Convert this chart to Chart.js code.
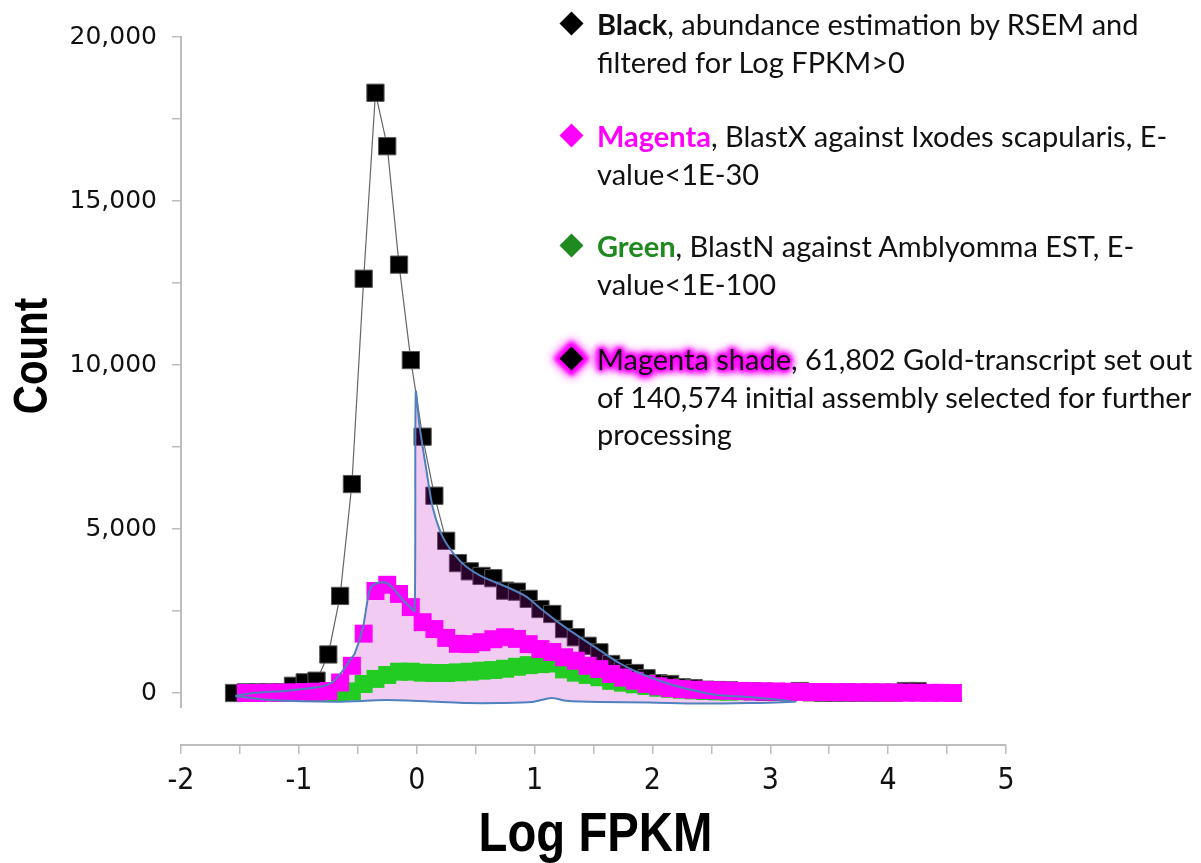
<!DOCTYPE html>
<html>
<head>
<meta charset="utf-8">
<script src="https://cdn.jsdelivr.net/npm/chart.js@4.4.0/dist/chart.umd.min.js"></script>
<style>
  html, body { margin: 0; padding: 0; background: #fff; }
  #wrap { position: relative; width: 1201px; height: 863px; overflow: hidden; }
  #chart { position: absolute; left: 0; top: 0; }
  .note { position: absolute; left: 597px; font-family: Lato, sans-serif; font-size: 29px; line-height: 37.5px; color: #111; white-space: nowrap; }
  .dia { position: absolute; left: -34px; top: 10px; width: 17px; height: 17px; transform: rotate(45deg); }
  .glow { text-shadow: 0 0 2px #f0f, 0 0 3px #f0f, 0 0 4px #f0f, 0 0 5px #f0f, 0 0 6px #f0f, 0 0 7px #f0f,
                       0 0 8px #f0f, 0 0 9px #f0f, 0 0 10px #f0f, 0 0 12px #f0f, 0 0 14px #f0f; }
</style>
</head>
<body>
<div id="wrap">
  <canvas id="chart" width="1201" height="863"></canvas>
  <div class="note" style="top:5px"><span class="dia" style="background:#000"></span><b>Black</b>, abundance estimation by RSEM and<br>filtered for Log FPKM&gt;0</div>
  <div class="note" style="top:117px"><span class="dia" style="background:#ff00ff"></span><b style="color:#ff00ff">Magenta</b>, BlastX against Ixodes scapularis, E-<br>value&lt;1E-30</div>
  <div class="note" style="top:227px"><span class="dia" style="background:#1f8a1f"></span><b style="color:#1f8a1f">Green</b>, BlastN against Amblyomma EST, E-<br>value&lt;1E-100</div>
  <div class="note" style="top:340px"><span class="dia" style="background:#000;box-shadow:0 0 4px 4px #f0f, 0 0 10px 5px #f0f"></span><span class="glow">Magenta shade</span>, 61,802 Gold-transcript set out<br>of 140,574 initial assembly selected for further<br>processing</div>
</div>
<script>
// Log FPKM bins (centres) and counts per series
const bins = [-1.55, -1.45, -1.35, -1.25, -1.15, -1.05, -0.95, -0.85, -0.75, -0.65,
              -0.55, -0.45, -0.35, -0.25, -0.15, -0.05, 0.05, 0.15, 0.25, 0.35,
              0.45, 0.55, 0.65, 0.75, 0.85, 0.95, 1.05, 1.15, 1.25, 1.35,
              1.45, 1.55, 1.65, 1.75, 1.85, 1.95, 2.05, 2.15, 2.25, 2.35,
              2.45, 2.55, 2.65, 2.75, 2.85, 2.95, 3.05, 3.15, 3.25, 3.35,
              3.45, 3.55, 3.65, 3.75, 3.85, 3.95, 4.05, 4.15, 4.25, 4.35,
              4.45, 4.55];

const blackCounts = [0, 20, 20, 20, 20, 220, 325, 375, 1175, 2960,
                     6370, 12630, 18300, 16670, 13060, 10150, 7815, 6015, 4640, 3960,
                     3710, 3570, 3500, 3120, 3090, 2870, 2560, 2410, 1950, 1700,
                     1440, 1240, 885, 760, 610, 450, 300, 275, 175, 150,
                     100, 90, 80, 60, 50, 40, 30, 20, 60, 20,
                     10, 10, 10, 10, 10, 10, 10, 60, 60, null,
                     null, null];

const magentaCounts = [null, 0, 0, 10, 10, 20, 30, 40, 60, 320,
                       830, 1810, 3110, 3300, 3020, 2620, 2160, 1950, 1680, 1500,
                       1490, 1550, 1640, 1700, 1650, 1490, 1340, 1250, 1090, 985,
                       830, 730, 580, 470, 375, 275, 205, 150, 120, 100,
                       90, 80, 70, 60, 55, 50, 45, 40, 35, 30,
                       30, 25, 25, 20, 20, 15, 15, 10, 10, 5,
                       5, 0];

const greenCounts = [null, null, null, null, null, null, null, 0, 0, 30,
                     50, 275, 430, 550, 650, 650, 620, 610, 610, 630,
                     650, 680, 700, 740, 800, 850, 880, 900, 720, 620,
                     550, 480, 370, 315, 265, 215, 160, 130, 100, 80,
                     60, 50, 40, null, null, null, null, null, null, null,
                     null, null, null, null, null, null, null, null, null, null,
                     null, null];

// outline of the "Gold-transcript" shade: upper edge left to right, then lower edge back
const shadeX = [-1.54, -1.386, -1.1, -0.82, -0.709, -0.624, -0.567, -0.525, -0.455, -0.412,
                -0.384, -0.328, -0.257, -0.2, -0.116, -0.05, -0.017, -0.008, 0.025, 0.082,
                0.135, 0.22, 0.322, 0.421, 0.559, 0.76, 0.929, 1.067, 1.211, 1.38,
                1.55, 1.719, 1.888, 2.117, 2.337, 2.54, 2.82, 3.218,
                2.82, 2.396, 1.973, 1.55, 1.27, 1.143, 0.982, 0.703, 0.423, 0.169,
                -0.254, -0.677, -1.245, -1.54];
const shadeY = [-90, 0, 70, 190, 345, 700, 1000, 1210, 2020, 2936,
                3240, 3360, 3360, 3190, 2835, 2600, 2500, 9180, 8110, 6800,
                5670, 4760, 4210, 3850, 3540, 3240, 2940, 2530, 2130, 1710,
                1310, 915, 610, 305, 90, -60, -120, -270,
                -305, -320, -290, -275, -235, -150, -275, -305, -305, -265,
                -215, -265, -215, -90];

const xTicks = [-2, -1.5, -1, -0.5, 0, 0.5, 1, 1.5, 2, 2.5, 3, 3.5, 4, 4.5, 5];
const yTicks = [0, 2500, 5000, 7500, 10000, 12500, 15000, 17500, 20000];
const yAxisTop = 20000;
const yAxisBottom = -460;

const condensed = "'DejaVu Sans Condensed', 'Liberation Sans', sans-serif";
const axisGrey = '#bdbdbd';

function points(values) {
    return bins.map((x, i) => ({ x, y: values[i] })).filter(p => p.y !== null);
}

const shadePoints = shadeX.map((x, i) => ({ x, y: shadeY[i] }));

// narrow bold title text (Liberation Sans squeezed like Arial Narrow)
function narrowText(ctx, text, x, y, size, angle, squeeze) {
    ctx.save();
    ctx.translate(x, y);
    ctx.rotate(angle);
    ctx.scale(squeeze, 1);
    ctx.fillStyle = '#000';
    ctx.font = 'bold ' + size + "px 'Liberation Sans', Arial, sans-serif";
    ctx.textAlign = 'center';
    ctx.textBaseline = 'alphabetic';
    ctx.fillText(text, 0, 0);
    ctx.restore();
}

const axisDecor = {
    id: 'axisDecor',
    afterDraw(chart) {
        const { ctx, scales: { x, y } } = chart;
        ctx.save();
        ctx.strokeStyle = axisGrey;
        ctx.lineWidth = 2;
        ctx.beginPath();
        ctx.moveTo(x.left, y.getPixelForValue(yAxisTop) - 1);
        ctx.lineTo(x.left, y.getPixelForValue(yAxisBottom));
        ctx.stroke();
        ctx.restore();

        narrowText(ctx, 'Count', 47, 356, 48, -Math.PI / 2, 0.84);
        narrowText(ctx, 'Log FPKM', (x.left + x.right) / 2 + 2, 851, 56, 0, 0.845);
    }
};

new Chart(document.getElementById('chart'), {
    type: 'scatter',
    data: {
        datasets: [
            {
                label: 'outline',
                data: shadePoints,
                showLine: true,
                borderColor: '#4f81bd',
                borderWidth: 2,
                pointRadius: 0,
                tension: 0.25,
                fill: false,
                order: 0
            },
            {
                label: 'Magenta',
                data: points(magentaCounts),
                pointStyle: 'rect',
                pointRadius: 12.7,
                pointBackgroundColor: '#ff00ff',
                pointBorderWidth: 0,
                order: 1
            },
            {
                label: 'Green',
                data: points(greenCounts),
                pointStyle: 'rect',
                pointRadius: 12.7,
                pointBackgroundColor: '#22cc22',
                pointBorderWidth: 0,
                order: 2
            },
            {
                label: 'Magenta shade',
                data: shadePoints,
                showLine: true,
                borderWidth: 0,
                pointRadius: 0,
                tension: 0.25,
                fill: 'shape',
                backgroundColor: 'rgba(192, 10, 192, 0.21)',
                order: 3
            },
            {
                label: 'Black',
                data: points(blackCounts),
                showLine: true,
                borderColor: '#666',
                borderWidth: 1.2,
                pointStyle: 'rect',
                pointRadius: 12.2,
                pointBackgroundColor: '#000',
                pointBorderColor: '#555',
                pointBorderWidth: 1,
                order: 4
            }
        ]
    },
    options: {
        responsive: false,
        animation: false,
        layout: { padding: { left: 0, top: 37, right: 195, bottom: 0 } },
        plugins: { legend: { display: false }, tooltip: { enabled: false } },
        scales: {
            x: {
                type: 'linear',
                min: -2,
                max: 5,
                afterBuildTicks: s => { s.ticks = xTicks.map(v => ({ value: v })); },
                afterFit: s => { s.height = 118; },
                grid: { drawOnChartArea: false, drawTicks: true, tickLength: 9, color: axisGrey, lineWidth: 1.5 },
                border: { display: true, color: axisGrey, width: 2 },
                ticks: {
                    autoSkip: false,
                    maxRotation: 0,
                    padding: 9,
                    color: '#111',
                    font: { family: condensed, size: 30 },
                    callback: v => Number.isInteger(v) ? String(v) : ''
                }
            },
            y: {
                type: 'linear',
                min: -1585,
                max: 20000,
                afterBuildTicks: s => { s.ticks = yTicks.map(v => ({ value: v })); },
                afterFit: s => { s.width = 181; },
                grid: { drawOnChartArea: false, drawTicks: true, tickLength: 9, color: axisGrey, lineWidth: 1.5 },
                border: { display: false },
                ticks: {
                    padding: 15,
                    color: '#111',
                    font: { family: 'DejaVu Sans', size: 25 },
                    callback: v => v % 5000 === 0 ? v.toLocaleString('en-US') : ''
                }
            }
        }
    },
    plugins: [axisDecor]
});
</script>
</body>
</html>
